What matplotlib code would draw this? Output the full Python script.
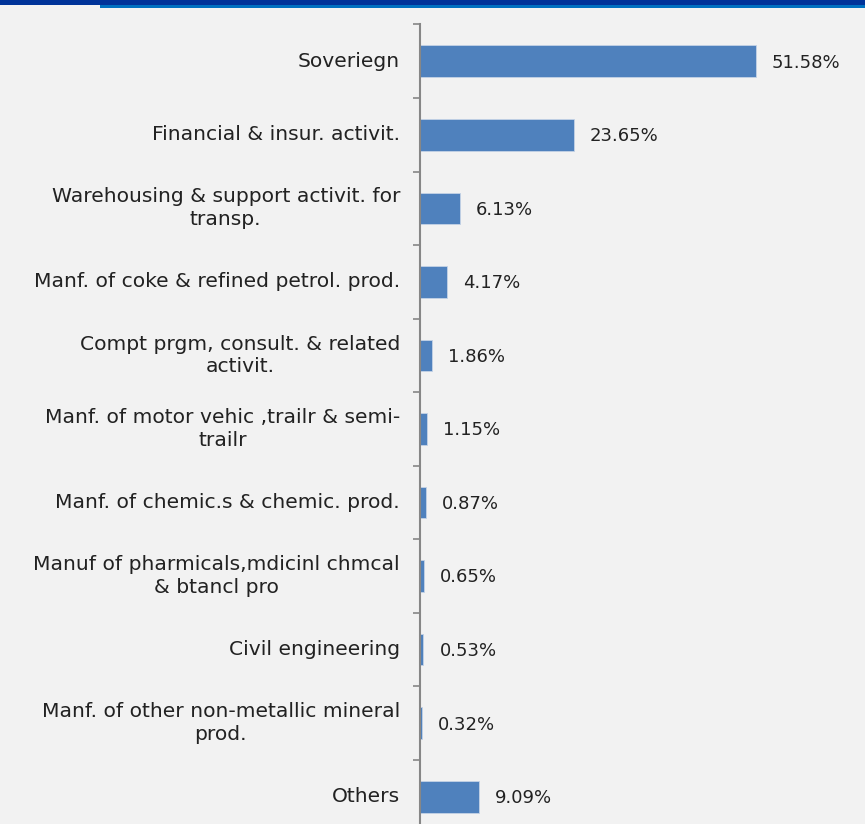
import matplotlib.pyplot as plt
from matplotlib.patches import Rectangle

sectors = [
    'Soveriegn',
    'Financial & insur. activit.',
    'Warehousing & support activit. for\ntransp.',
    'Manf. of coke & refined petrol. prod.',
    'Compt prgm, consult. & related\nactivit.',
    'Manf. of motor vehic ,trailr & semi-\ntrailr',
    'Manf. of chemic.s & chemic. prod.',
    'Manuf of pharmicals,mdicinl chmcal\n& btancl pro',
    'Civil engineering',
    'Manf. of other non-metallic mineral\nprod.',
    'Others',
]
shares = [51.58, 23.65, 6.13, 4.17, 1.86, 1.15, 0.87, 0.65, 0.53, 0.32, 9.09]

bg = '#f2f2f2'
bar_color = '#4f81bd'
spine_color = '#878787'
text_color = '#222222'
font = ['DejaVu Sans']

W, H = 865, 824
fig = plt.figure(figsize=(W / 100, H / 100), dpi=100, facecolor=bg)

# header strips along the top edge
fig.patches.append(Rectangle((0, 1 - 5 / H), 1, 5 / H, transform=fig.transFigure,
                             facecolor='#003399', edgecolor='none'))
fig.patches.append(Rectangle((100 / W, 1 - 8 / H), 1, 3 / H, transform=fig.transFigure,
                             facecolor='#0070c0', edgecolor='none'))

# axes runs past the bottom of the canvas, as in the original slide crop
x0, y_top, y_bot, x1 = 420, 24.5, 833.5, 845
ax = fig.add_axes([x0 / W, 1 - y_bot / H, (x1 - x0) / W, (y_bot - y_top) / H])
ax.set_facecolor(bg)

n = len(sectors)
pos = list(range(n))
ax.barh(pos, shares, height=0.43, color=bar_color, edgecolor='#c5d3e6', linewidth=0.6)
ax.set_ylim(n - 0.5, -0.5)
px_per_pct = 336 / 51.58
ax.set_xlim(0, (x1 - x0) / px_per_pct)

for i, v in enumerate(shares):
    ax.annotate('{:.2f}%'.format(v), (v, i), xytext=(11.5, -1), textcoords='offset points',
                va='center', ha='left', fontsize=13, family=font, color=text_color)

ax.set_yticks(pos)
ax.set_yticklabels([])
for i, s in enumerate(sectors):
    ax.annotate(s, (0, i), xytext=(-14.4, 0), textcoords='offset points',
                ha='right', va='center', multialignment='center',
                fontsize=14.6, family=font, color=text_color, linespacing=1.25)

# category boundary ticks
ax.set_yticks([i - 0.5 for i in range(n + 1)], minor=True)
ax.tick_params(axis='y', which='major', length=0)
ax.tick_params(axis='y', which='minor', length=5, width=1.2, color=spine_color)
ax.set_xticks([])
for side in ['top', 'right', 'bottom']:
    ax.spines[side].set_visible(False)
ax.spines['left'].set_color(spine_color)
ax.spines['left'].set_linewidth(1.5)

fig.savefig('out.png', dpi=100, facecolor=bg)
